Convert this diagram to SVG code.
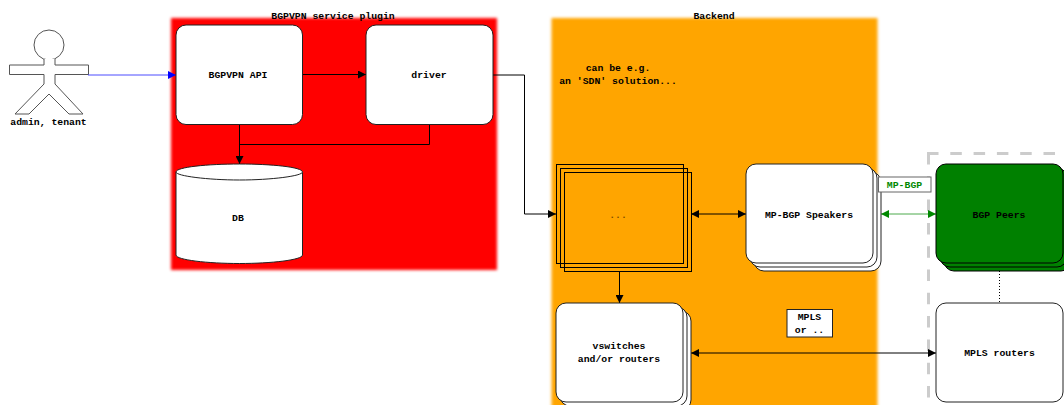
<svg xmlns="http://www.w3.org/2000/svg" width="1064" height="405" viewBox="0 0 1064 405">
<style>
text{font-family:"Liberation Mono",monospace;font-size:9.8px;font-weight:bold;text-anchor:middle;fill:#000}
.n{fill:#fff;stroke:#222;stroke-width:1}
.l{fill:none;stroke:#000;stroke-width:1}
.s{fill:none;stroke:#000;stroke-width:1}
.d{fill:none;stroke:#ccc;stroke-width:3;stroke-dasharray:11.500 11.800}
</style>
<defs>
<filter id="b" x="-5%" y="-5%" width="110%" height="110%"><feGaussianBlur stdDeviation="1.6"/></filter>
<marker id="a" markerWidth="9" markerHeight="8" refX="8" refY="4" orient="auto" markerUnits="userSpaceOnUse"><path d="M0 0L8 4L0 8z" fill="#000"/></marker>
<marker id="as" markerWidth="9" markerHeight="8" refX="0" refY="4" orient="auto" markerUnits="userSpaceOnUse"><path d="M8 0L0 4L8 8z" fill="#000"/></marker>
<marker id="ab" markerWidth="9" markerHeight="8" refX="8" refY="4" orient="auto" markerUnits="userSpaceOnUse"><path d="M0 0L8 4L0 8z" fill="#00f"/></marker>
<marker id="ag" markerWidth="9" markerHeight="8" refX="8" refY="4" orient="auto" markerUnits="userSpaceOnUse"><path d="M0 0L8 4L0 8z" fill="#080"/></marker>
<marker id="ags" markerWidth="9" markerHeight="8" refX="0" refY="4" orient="auto" markerUnits="userSpaceOnUse"><path d="M8 0L0 4L8 8z" fill="#080"/></marker>
</defs>
<g id="cluster-plugin"><rect x="171" y="18" width="326" height="252" fill="#f00" filter="url(#b)"/><text x="333" y="19">BGPVPN service plugin</text></g>
<g id="cluster-backend"><rect x="551.500" y="18" width="326" height="400" fill="#ffa500" filter="url(#b)"/><text x="714" y="19">Backend</text>
<text x="618" y="71">can be e.g.</text><text x="618" y="84">an 'SDN' solution...</text></g>
<g id="cluster-peers"><path class="d" d="M927 153.500H1064"/><path class="d" d="M928.500 153V402"/></g>
<g id="actor"><circle cx="49" cy="45" r="15" fill="#fff" stroke="#555"/>
<path d="M44 59V65H9.500V74.500H44V84L15 114H29L49 94L69 114H83L55 84V74.500H88.500V65H55V59" fill="#fff" stroke="#555"/>
<text x="48.500" y="125">admin, tenant</text></g>
<g id="connectors">
<path class="l" style="stroke:#00f;stroke-opacity:.7" d="M88 75H176"/>
<path d="M168 71L176 75L168 79z" fill="#00f"/>
<path class="l" d="M302 74.500H366" marker-end="url(#a)"/>
<path class="l" d="M239.500 124V164" marker-end="url(#a)"/>
<path class="l" d="M429.500 124V144.500H239.500"/>
<path class="l" d="M493 75H524.500V214H556" marker-end="url(#a)"/>
<path class="l" d="M691 214H746" marker-start="url(#as)" marker-end="url(#a)"/>
<path class="l" d="M619.500 271V303" marker-end="url(#a)"/>
<path class="l" style="stroke:#080;stroke-opacity:.7" d="M881 214H936"/>
<path d="M889 210L881 214L889 218z M928 210L936 214L928 218z" fill="#080"/>
<path class="l" d="M691 353H936" marker-start="url(#as)" marker-end="url(#a)"/>
<path class="l" d="M999.500 271V303" stroke-dasharray="1 2"/>
</g>
<g id="api"><rect class="n" x="176" y="25" width="126.500" height="99.500" rx="10"/><text x="238" y="78">BGPVPN API</text></g>
<g id="driver"><rect class="n" x="366" y="25" width="127" height="99.500" rx="10"/><text x="429" y="78">driver</text></g>
<g id="db"><path class="n" d="M176 172C176 167 208 164 239.500 164S302.500 167 302.500 172V255C302.500 260 271 263.500 239.500 263.500S176 260 176 255Z"/><path class="n" d="M176 172C176 176 208 180 239.500 180S302.500 176 302.500 172"/><text x="238" y="221">DB</text></g>
<g id="backend-stack"><rect class="s" x="556.500" y="164.500" width="127" height="99"/><rect class="s" x="560.500" y="168.500" width="127" height="99"/><rect class="s" x="564.500" y="172.500" width="127" height="99"/><text x="618" y="218" style="fill:#7a4f00">...</text></g>
<g id="speakers"><rect class="n" x="754" y="172" width="127" height="99" rx="10"/><rect class="n" x="750" y="168" width="127" height="99" rx="10"/><rect class="n" x="746" y="164" width="127" height="99" rx="10"/><text x="809" y="218">MP-BGP Speakers</text></g>
<g id="mpbgp-label"><rect x="878.500" y="177" width="52.500" height="15" fill="#fff" stroke="#666"/><text x="904.500" y="188" style="fill:#080">MP-BGP</text></g>
<g id="peers"><rect x="944" y="172" width="127" height="99" rx="10" fill="#008000" stroke="#000"/><rect x="940" y="168" width="127" height="99" rx="10" fill="#008000" stroke="#000"/><rect x="936" y="164" width="127" height="99" rx="10" fill="#008000" stroke="#000"/><text x="999" y="218">BGP Peers</text></g>
<g id="vswitches"><rect class="n" x="564" y="311" width="127" height="99" rx="10"/><rect class="n" x="560" y="307" width="127" height="99" rx="10"/><rect class="n" x="556" y="303" width="127" height="99" rx="10"/><text x="619" y="349">vswitches</text><text x="619" y="362">and/or routers</text></g>
<g id="mpls-label"><rect x="787" y="309.500" width="45.500" height="27.500" fill="#fff" stroke="#222"/><text x="809.500" y="320">MPLS</text><text x="809.500" y="333">or ..</text></g>
<g id="mpls"><rect class="n" x="936" y="303" width="127" height="99" rx="10"/><text x="999.500" y="356">MPLS routers</text></g>
</svg>
